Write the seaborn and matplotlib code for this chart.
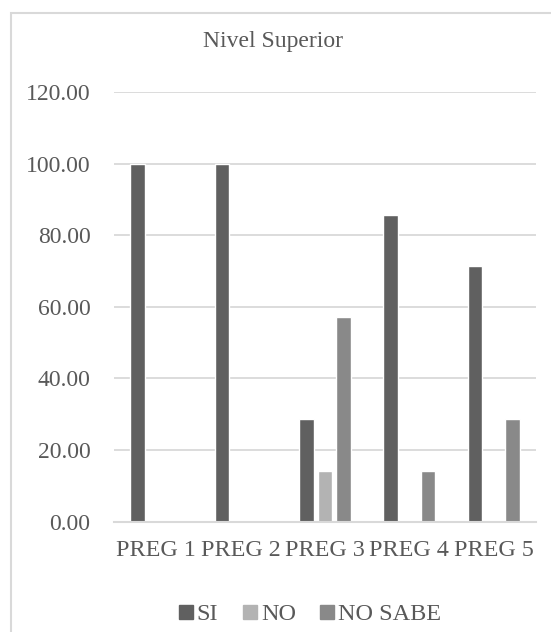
import matplotlib
matplotlib.use("Agg")
import matplotlib.pyplot as plt
import seaborn as sns
import pandas as pd
from matplotlib.patches import Rectangle
from matplotlib.lines import Line2D
from matplotlib.ticker import FormatStrFormatter

categories = ["PREG 1", "PREG 2", "PREG 3", "PREG 4", "PREG 5"]
series = ["SI", "NO", "NO SABE"]
si = [100.00, 100.00, 28.57, 85.71, 71.43]
no = [0.00, 0.00, 14.29, 0.00, 0.00]
no_sabe = [0.00, 0.00, 57.14, 14.29, 28.57]
colors = ["#606060", "#b3b3b3", "#898989"]
yticks = [0, 20, 40, 60, 80, 100, 120]

rows = []
for s, vals in zip(series, [si, no, no_sabe]):
    for c, v in zip(categories, vals):
        rows.append({"cat": c, "serie": s, "val": v})
df = pd.DataFrame(rows)

sns.set_theme(style="white")
plt.rcParams["font.family"] = ["Liberation Serif", "DejaVu Serif"]
txt = "#595959"

fig = plt.figure(figsize=(5.51, 6.32), dpi=100)
ax = fig.add_axes([114 / 551, 1 - 521.7 / 632, 422 / 551, (521.7 - 92) / 632])

sns.barplot(data=df, x="cat", y="val", hue="serie", hue_order=series,
            order=categories, palette=colors, width=0.666, gap=0.22,
            saturation=1, ax=ax, legend=False, errorbar=None)

ax.set_ylim(0, 120)
ax.set_xlim(-0.5, 4.5)
ax.set_yticks(yticks)
ax.yaxis.set_major_formatter(FormatStrFormatter("%.2f"))
ax.set_xlabel("")
ax.set_ylabel("")
ax.grid(axis="y", color="#d9d9d9", lw=1.3)
ax.set_axisbelow(True)
for sp in ["left", "right", "top"]:
    ax.spines[sp].set_visible(False)
ax.spines["bottom"].set_color("#d9d9d9")
ax.spines["bottom"].set_linewidth(1.5)
ax.tick_params(axis="y", length=0, pad=17, labelsize=17, labelcolor=txt)
ax.tick_params(axis="x", length=0, pad=13, labelsize=17.4, labelcolor=txt)

fig.text(273 / 551, 1 - 41 / 632, "Nivel Superior", ha="center", va="center",
         fontsize=17, color=txt)

handles = [Line2D([0], [0], marker="s", color="none", markerfacecolor=c,
                  markeredgecolor=c, markersize=9.5) for c in colors]
fig.legend(handles, series, loc="center", bbox_to_anchor=(310 / 551, 1 - 614 / 632),
           ncol=3, frameon=False, fontsize=17.5, labelcolor=txt,
           handlelength=0.6, handletextpad=0.15, columnspacing=1.0,
           borderpad=0, borderaxespad=0)

fig.patches.append(Rectangle((10.5 / 551, -0.1), 1.2, 1.1 - 12.5 / 632,
                             transform=fig.transFigure, fill=False,
                             edgecolor="#d9d9d9", lw=1.5))

fig.savefig("out.png", dpi=100)
